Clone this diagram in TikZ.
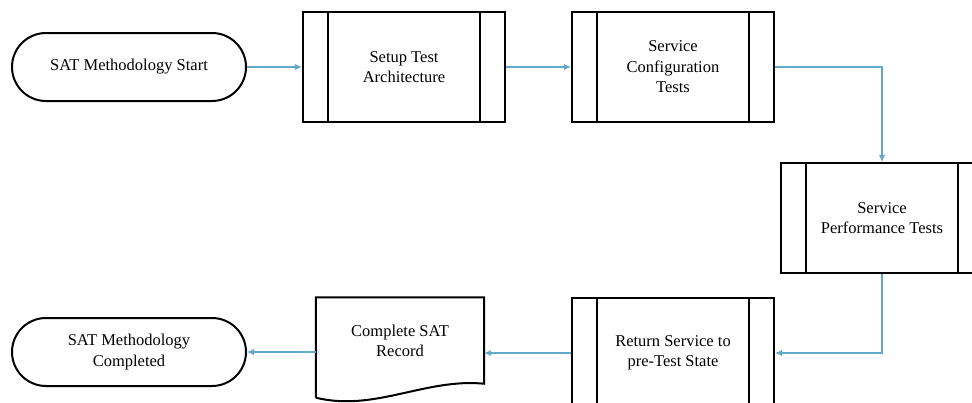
\documentclass[tikz,border=0pt]{standalone}
\usepackage{fontspec}
\setmainfont{Liberation Serif}
\usetikzlibrary{arrows.meta,calc}
\definecolor{flowblue}{HTML}{62A9C9}
\tikzset{
  base/.style={draw=black, line width=2pt, align=center, inner sep=0pt,
    font=\fontsize{16.5}{20.5}\selectfont},
  terminal/.style={base, rounded corners=34pt, minimum width=234pt, minimum height=68pt},
  procbox/.style={base, minimum width=202pt, minimum height=110pt,
    path picture={
      \draw[line width=2pt] ([xshift=25pt]path picture bounding box.north west) -- ([xshift=25pt]path picture bounding box.south west);
      \draw[line width=2pt] ([xshift=-25pt]path picture bounding box.north east) -- ([xshift=-25pt]path picture bounding box.south east);
    }},
  docbox/.style={align=center, inner sep=0pt, minimum width=168pt, minimum height=87pt,
    font=\fontsize{16.5}{20.5}\selectfont},
  flow/.style={draw=flowblue, line width=2pt, -{Latex[length=7pt,width=6.5pt]}},
}
\begin{document}
\begin{tikzpicture}[x=1pt,y=-1pt]
\path[use as bounding box, clip] (0,0) rectangle (972,402);
\fill[white] (0,0) rectangle (972,402);

\node[terminal] (start) at (129,67) {SAT Methodology Start};
\node[procbox] (setup) at (404,67) {Setup Test\\Architecture};
\node[procbox] (config) at (673,67) {Service\\Configuration\\Tests};
\node[procbox] (perf) at (882,218) {Service\\Performance Tests};
\node[procbox] (ret) at (673,353) {Return Service to\\pre-Test State};
\node[docbox] (doc) at (400,341) {Complete SAT\\Record};
\node[terminal] (stop) at (129,352) {SAT Methodology\\Completed};

% document outline with wavy lower edge
\draw[line width=2pt, line join=miter]
  (doc.south west) ++(0,13) -- (doc.north west) -- (doc.north east) -- ($(doc.south east)+(0,-1)$)
  .. controls (425,378) and (375,412) .. ($(doc.south west)+(0,13)$);

% connectors
\draw[flow] (start.east) -- (setup.west);
\draw[flow] (setup.east) -- (config.west);
\draw[flow] (config.east) -| (perf.north);
\draw[flow] (perf.south) |- (ret.east);
\draw[flow] (ret.west) -- (ret.west -| doc.east);
\draw[flow] (doc.west |- stop.east) -- (stop.east);
\end{tikzpicture}
\end{document}
